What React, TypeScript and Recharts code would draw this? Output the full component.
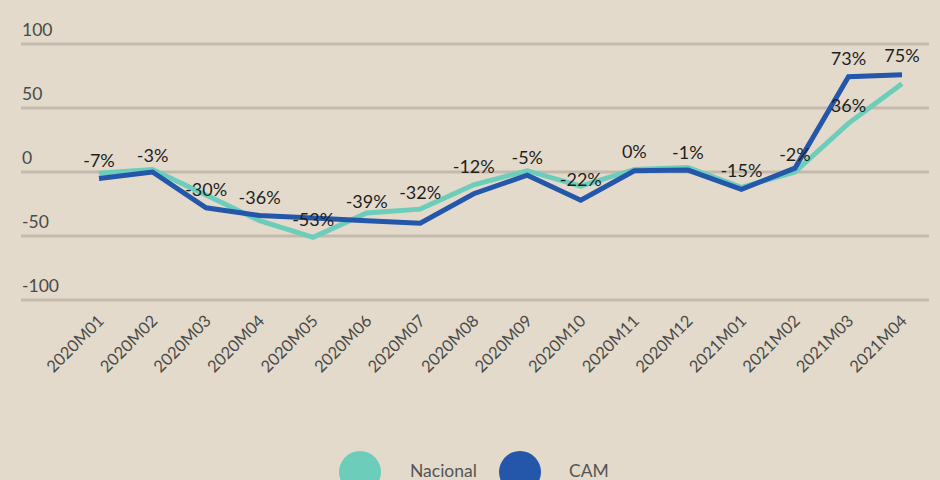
import { LineChart, Line, XAxis, YAxis, CartesianGrid, LabelList } from "recharts";

const meses = [
  "2020M01", "2020M02", "2020M03", "2020M04", "2020M05", "2020M06", "2020M07", "2020M08",
  "2020M09", "2020M10", "2020M11", "2020M12", "2021M01", "2021M02", "2021M03", "2021M04",
];
const nacional = [-1, 2, -18, -38, -51, -32, -29, -10, 1, -11, 2, 3.5, -12, 0, 38, 69];
const cam = [-5, 0, -28, -34, -36, -38, -40, -17, -2.5, -22, 1, 1.5, -13.5, 3, 74.5, 76];
// etiquetas tal como aparecen en el gráfico
const etiquetas = [-7, -3, -30, -36, -53, -39, -32, -12, -5, -22, 0, -1, -15, -2, 73, 75];
const etiquetaNacional = [null, null, null, null, null, null, null, null, null, null, null, null, null, null, 36, null];
const yTicks = [-100, -50, 0, 50, 100];

const data = meses.map((mes, i) => ({
  mes,
  nacional: nacional[i],
  cam: cam[i],
  etiqueta: etiquetas[i],
  etiquetaNacional: etiquetaNacional[i],
}));

const FONT = "Lato, 'Open Sans', sans-serif";
const BG = "#e3dacb";
const VERDE = "#6ccdbb";
const AZUL = "#2456aa";

const PctLabel = (props: any) => {
  const { x, y, value } = props;
  if (value == null) return null;
  return (
    <text x={x} y={y - 14} textAnchor="middle" fontSize={18} fontFamily={FONT} fill="#1f1f1f">
      {`${value}%`}
    </text>
  );
};

const YTick = (props: any) => {
  const { y, payload } = props;
  return (
    <text x={22} y={y - 8} textAnchor="start" fontSize={17.5} fontFamily={FONT} fill="#4a4a4a">
      {payload.value}
    </text>
  );
};

const XTick = (props: any) => {
  const { x, y, payload } = props;
  return (
    <g transform={`translate(${x + 6},${y + 14})`}>
      <text textAnchor="end" transform="rotate(-45)" fontSize={16.5} fontFamily={FONT} fill="#4a4a4a">
        {payload.value}
      </text>
    </g>
  );
};

export default function App() {
  return (
    <div style={{ position: "fixed", left: 0, top: 0, width: 940, height: 480, background: BG, overflow: "hidden" }}>
      <LineChart width={940} height={480} data={data} margin={{ top: 44, right: 11, left: 21, bottom: 80 }}>
        <CartesianGrid vertical={false} stroke="#c4b9ad" strokeWidth={3} />
        <XAxis
          dataKey="mes"
          axisLine={false}
          tickLine={false}
          interval={0}
          height={100}
          padding={{ left: 78, right: 27 }}
          tick={<XTick />}
        />
        <YAxis
          domain={[-100, 100]}
          ticks={yTicks}
          mirror
          axisLine={false}
          tickLine={false}
          tick={<YTick />}
        />
        <Line dataKey="nacional" stroke={VERDE} strokeWidth={5} dot={false} isAnimationActive={false} strokeLinejoin="miter" />
        <Line dataKey="cam" stroke={AZUL} strokeWidth={5} dot={false} isAnimationActive={false} strokeLinejoin="miter" />
        <Line dataKey="etiqueta" stroke="none" dot={false} activeDot={false} isAnimationActive={false}>
          <LabelList dataKey="etiqueta" content={<PctLabel />} />
        </Line>
        <Line dataKey="etiquetaNacional" stroke="none" dot={false} activeDot={false} isAnimationActive={false}>
          <LabelList dataKey="etiquetaNacional" content={<PctLabel />} />
        </Line>
      </LineChart>
      <div style={{ position: "absolute", left: 0, top: 0, width: 940, height: 480, pointerEvents: "none" }}>
        <svg width={940} height={480}>
          <circle cx={360} cy={472} r={21} fill={VERDE} />
          <text x={410} y={477} fontSize={17.5} fontFamily={FONT} fill="#555">Nacional</text>
          <circle cx={520} cy={472} r={21} fill={AZUL} />
          <text x={569} y={477} fontSize={17.5} fontFamily={FONT} fill="#555">CAM</text>
        </svg>
      </div>
    </div>
  );
}
